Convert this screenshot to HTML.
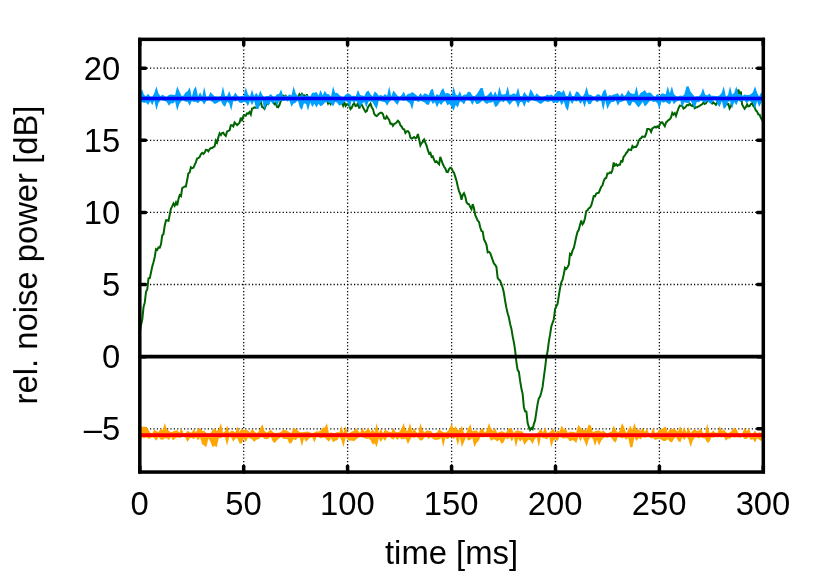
<!DOCTYPE html>
<html><head><meta charset="utf-8"><title>chart</title>
<style>html,body{margin:0;padding:0;background:#fff;}svg{display:block;}</style>
</head><body>
<svg width="822" height="576" viewBox="0 0 822 576">
<rect width="822" height="576" fill="#fff"/>
<g stroke="#000" stroke-width="1.3" stroke-dasharray="1.2 2.2" fill="none">
<path d="M243.7 39.35 V472.05"/>
<path d="M347.6 39.35 V472.05"/>
<path d="M451.6 39.35 V472.05"/>
<path d="M555.5 39.35 V472.05"/>
<path d="M659.4 39.35 V472.05"/>
<path d="M139.8 68.2 H763.3"/>
<path d="M139.8 140.3 H763.3"/>
<path d="M139.8 212.4 H763.3"/>
<path d="M139.8 284.5 H763.3"/>
<path d="M139.8 428.8 H763.3"/>
</g>
<g stroke="#000" stroke-width="3.5" stroke-linecap="round" fill="none">
<path d="M139.8 472.05 v-5.7"/><path d="M139.8 39.35 v5.7"/>
<path d="M243.7 472.05 v-5.7"/><path d="M243.7 39.35 v5.7"/>
<path d="M347.6 472.05 v-5.7"/><path d="M347.6 39.35 v5.7"/>
<path d="M451.6 472.05 v-5.7"/><path d="M451.6 39.35 v5.7"/>
<path d="M555.5 472.05 v-5.7"/><path d="M555.5 39.35 v5.7"/>
<path d="M659.4 472.05 v-5.7"/><path d="M659.4 39.35 v5.7"/>
<path d="M763.3 472.05 v-5.7"/><path d="M763.3 39.35 v5.7"/>
<path d="M139.8 68.2 h5.7"/><path d="M763.3 68.2 h-5.7"/>
<path d="M139.8 140.3 h5.7"/><path d="M763.3 140.3 h-5.7"/>
<path d="M139.8 212.4 h5.7"/><path d="M763.3 212.4 h-5.7"/>
<path d="M139.8 284.5 h5.7"/><path d="M763.3 284.5 h-5.7"/>
<path d="M139.8 356.7 h5.7"/><path d="M763.3 356.7 h-5.7"/>
<path d="M139.8 428.8 h5.7"/><path d="M763.3 428.8 h-5.7"/>
</g>
<path d="M139.8 332.3 L141.0 325.1 L142.3 319.5 L143.5 307.3 L144.8 302.4 L146.0 291.8 L147.3 289.3 L148.5 278.3 L149.8 278.1 L151.0 272.5 L152.3 266.3 L153.5 262.2 L154.8 256.7 L156.0 249.1 L157.3 249.9 L158.5 247.4 L159.8 247.6 L161.0 244.3 L162.2 235.5 L163.5 234.0 L164.7 225.8 L166.0 220.2 L167.2 220.3 L168.5 220.9 L169.7 214.7 L171.0 208.5 L172.2 206.4 L173.5 203.5 L174.7 205.7 L176.0 202.4 L177.2 205.3 L178.5 198.9 L179.7 195.1 L181.0 196.1 L182.2 188.0 L183.4 187.3 L184.7 186.5 L185.9 186.5 L187.2 179.7 L188.4 173.4 L189.7 172.5 L190.9 167.2 L192.2 168.2 L193.4 167.8 L194.7 164.8 L195.9 162.1 L197.2 158.4 L198.4 158.1 L199.7 156.9 L200.9 154.2 L202.2 152.8 L203.4 153.8 L204.6 152.7 L205.9 149.9 L207.1 150.0 L208.4 151.4 L209.6 149.1 L210.9 148.1 L212.1 148.1 L213.4 147.1 L214.6 146.4 L215.9 140.6 L217.1 142.5 L218.4 137.1 L219.6 133.4 L220.9 135.0 L222.1 133.0 L223.3 132.6 L224.6 134.9 L225.8 136.0 L227.1 131.5 L228.3 130.9 L229.6 130.3 L230.8 125.3 L232.1 125.3 L233.3 126.5 L234.6 122.4 L235.8 123.7 L237.1 125.1 L238.3 124.0 L239.6 122.6 L240.8 117.7 L242.1 121.1 L243.3 116.0 L244.5 115.2 L245.8 115.7 L247.0 113.4 L248.3 113.6 L249.5 112.0 L250.8 114.5 L252.0 108.8 L253.3 108.2 L254.5 107.4 L255.8 107.8 L257.0 107.0 L258.3 105.9 L259.5 103.6 L260.8 101.6 L262.0 106.8 L263.3 107.6 L264.5 108.9 L265.7 105.8 L267.0 103.8 L268.2 104.0 L269.5 99.9 L270.7 99.8 L272.0 99.9 L273.2 101.7 L274.5 104.2 L275.7 103.2 L277.0 106.9 L278.2 107.3 L279.5 104.8 L280.7 101.2 L282.0 99.4 L283.2 95.7 L284.5 96.6 L285.7 95.8 L286.9 98.0 L288.2 97.3 L289.4 98.4 L290.7 99.4 L291.9 97.2 L293.2 99.5 L294.4 101.2 L295.7 98.6 L296.9 99.4 L298.2 96.9 L299.4 94.1 L300.7 95.8 L301.9 93.9 L303.2 95.8 L304.4 95.5 L305.7 97.2 L306.9 94.3 L308.1 100.7 L309.4 100.3 L310.6 98.3 L311.9 97.7 L313.1 99.1 L314.4 100.2 L315.6 100.0 L316.9 100.1 L318.1 97.0 L319.4 98.3 L320.6 101.9 L321.9 100.7 L323.1 98.5 L324.4 99.8 L325.6 99.3 L326.9 100.2 L328.1 103.6 L329.3 102.0 L330.6 104.1 L331.8 101.3 L333.1 97.5 L334.3 97.3 L335.6 101.2 L336.8 97.8 L338.1 98.3 L339.3 102.5 L340.6 101.9 L341.8 102.7 L343.1 105.7 L344.3 102.1 L345.6 105.9 L346.8 104.3 L348.0 104.3 L349.3 105.7 L350.5 109.0 L351.8 107.6 L353.0 104.6 L354.3 103.4 L355.5 106.1 L356.8 105.7 L358.0 103.0 L359.3 108.4 L360.5 105.0 L361.8 104.8 L363.0 107.3 L364.3 109.8 L365.5 111.8 L366.8 111.0 L368.0 107.3 L369.2 105.4 L370.5 103.6 L371.7 107.4 L373.0 109.1 L374.2 113.9 L375.5 115.4 L376.7 116.1 L378.0 114.8 L379.2 113.5 L380.5 112.7 L381.7 112.8 L383.0 114.2 L384.2 118.4 L385.5 118.8 L386.7 116.3 L388.0 118.4 L389.2 119.9 L390.4 123.8 L391.7 123.6 L392.9 125.8 L394.2 123.9 L395.4 123.4 L396.7 122.2 L397.9 120.7 L399.2 122.1 L400.4 125.3 L401.7 126.7 L402.9 128.9 L404.2 129.3 L405.4 132.9 L406.7 131.3 L407.9 131.1 L409.2 132.6 L410.4 137.7 L411.6 138.5 L412.9 137.8 L414.1 137.1 L415.4 138.3 L416.6 137.8 L417.9 134.1 L419.1 139.0 L420.4 145.3 L421.6 143.1 L422.9 141.8 L424.1 139.6 L425.4 142.8 L426.6 145.7 L427.9 150.2 L429.1 153.6 L430.4 152.8 L431.6 157.0 L432.8 156.4 L434.1 159.8 L435.3 162.1 L436.6 161.3 L437.8 162.9 L439.1 164.3 L440.3 156.8 L441.6 160.7 L442.8 164.0 L444.1 166.7 L445.3 168.5 L446.6 171.8 L447.8 172.1 L449.1 169.0 L450.3 167.7 L451.6 168.4 L452.8 171.2 L454.0 172.7 L455.3 176.9 L456.5 180.7 L457.8 186.4 L459.0 191.1 L460.3 194.1 L461.5 199.8 L462.8 194.7 L464.0 193.2 L465.3 196.6 L466.5 202.2 L467.8 203.8 L469.0 204.2 L470.3 207.1 L471.5 209.3 L472.7 204.1 L474.0 208.3 L475.2 215.0 L476.5 217.8 L477.7 220.6 L479.0 221.9 L480.2 227.2 L481.5 231.0 L482.7 231.6 L484.0 239.5 L485.2 241.8 L486.5 244.9 L487.7 252.4 L489.0 251.9 L490.2 253.1 L491.5 256.6 L492.7 260.2 L493.9 263.4 L495.2 264.9 L496.4 266.9 L497.7 278.0 L498.9 279.5 L500.2 280.9 L501.4 284.1 L502.7 287.7 L503.9 293.0 L505.2 301.3 L506.4 307.9 L507.7 313.4 L508.9 317.6 L510.2 324.3 L511.4 328.7 L512.7 336.6 L513.9 342.4 L515.1 350.2 L516.4 362.1 L517.6 369.9 L518.9 371.9 L520.1 380.7 L521.4 388.6 L522.6 393.6 L523.9 407.2 L525.1 411.3 L526.4 411.6 L527.6 422.9 L528.9 427.2 L530.1 429.9 L531.4 428.0 L532.6 429.1 L533.9 423.8 L535.1 420.4 L536.3 412.3 L537.6 403.9 L538.8 398.3 L540.1 396.5 L541.3 392.3 L542.6 386.9 L543.8 377.4 L545.1 367.8 L546.3 357.4 L547.6 351.3 L548.8 341.8 L550.1 334.4 L551.3 326.5 L552.6 322.7 L553.8 319.3 L555.1 309.2 L556.3 306.3 L557.5 304.2 L558.8 295.9 L560.0 288.4 L561.3 282.3 L562.5 279.9 L563.8 274.1 L565.0 267.7 L566.3 268.9 L567.5 267.3 L568.8 264.8 L570.0 253.8 L571.3 254.8 L572.5 250.7 L573.8 247.9 L575.0 242.7 L576.2 237.1 L577.5 232.0 L578.7 230.1 L580.0 225.0 L581.2 220.5 L582.5 224.3 L583.7 222.5 L585.0 218.2 L586.2 211.2 L587.5 210.2 L588.7 208.5 L590.0 207.6 L591.2 205.6 L592.5 201.0 L593.7 196.1 L595.0 196.3 L596.2 193.6 L597.4 192.9 L598.7 192.8 L599.9 190.0 L601.2 186.8 L602.4 185.6 L603.7 181.0 L604.9 178.6 L606.2 178.0 L607.4 173.6 L608.7 173.6 L609.9 172.4 L611.2 172.9 L612.4 170.3 L613.7 162.5 L614.9 165.5 L616.2 164.2 L617.4 165.8 L618.6 164.8 L619.9 164.8 L621.1 161.1 L622.4 161.6 L623.6 156.7 L624.9 155.4 L626.1 153.2 L627.4 151.8 L628.6 149.4 L629.9 149.8 L631.1 150.0 L632.4 146.1 L633.6 147.5 L634.9 146.7 L636.1 146.9 L637.4 144.9 L638.6 141.1 L639.8 138.9 L641.1 138.2 L642.3 136.6 L643.6 136.8 L644.8 137.0 L646.1 133.9 L647.3 128.9 L648.6 128.9 L649.8 129.3 L651.1 131.9 L652.3 128.4 L653.6 127.7 L654.8 126.8 L656.1 127.5 L657.3 126.4 L658.6 127.4 L659.8 124.5 L661.0 122.4 L662.3 122.3 L663.5 124.3 L664.8 126.3 L666.0 122.6 L667.3 121.2 L668.5 120.1 L669.8 119.3 L671.0 117.6 L672.3 112.8 L673.5 114.6 L674.8 113.1 L676.0 115.9 L677.3 111.8 L678.5 108.3 L679.8 105.5 L681.0 105.7 L682.2 105.6 L683.5 108.6 L684.7 108.0 L686.0 106.3 L687.2 104.9 L688.5 105.4 L689.7 103.7 L691.0 105.4 L692.2 106.0 L693.5 103.9 L694.7 108.1 L696.0 107.3 L697.2 107.2 L698.5 106.3 L699.7 105.8 L701.0 104.9 L702.2 104.3 L703.4 102.4 L704.7 104.0 L705.9 103.3 L707.2 101.3 L708.4 100.3 L709.7 100.1 L710.9 101.9 L712.2 103.5 L713.4 102.4 L714.7 103.6 L715.9 104.8 L717.2 102.1 L718.4 98.9 L719.7 103.4 L720.9 99.9 L722.1 98.5 L723.4 96.8 L724.6 101.1 L725.9 103.3 L727.1 104.4 L728.4 104.0 L729.6 108.5 L730.9 106.3 L732.1 102.4 L733.4 100.6 L734.6 98.9 L735.9 96.7 L737.1 95.2 L738.4 89.6 L739.6 93.8 L740.9 91.7 L742.1 104.5 L743.3 106.5 L744.6 108.7 L745.8 107.3 L747.1 104.4 L748.3 106.3 L749.6 106.1 L750.8 104.1 L752.1 103.1 L753.3 106.0 L754.6 107.3 L755.8 110.3 L757.1 111.5 L758.3 114.4 L759.6 114.7 L760.8 117.8 L762.1 120.0 L763.3 117.0" fill="none" stroke="#006400" stroke-width="2.0" stroke-linejoin="miter" stroke-miterlimit="3"/>
<path d="M139.8 95.0 L141.9 89.1 L144.0 94.7 L146.0 96.2 L148.1 93.8 L150.2 96.5 L152.3 96.5 L154.3 93.3 L156.4 86.3 L158.5 93.6 L160.6 96.3 L162.7 94.5 L164.7 96.2 L166.8 96.7 L168.9 95.1 L171.0 94.6 L173.1 94.7 L175.1 95.0 L177.2 86.3 L179.3 91.3 L181.4 95.7 L183.4 95.8 L185.5 92.4 L187.6 91.2 L189.7 87.3 L191.8 96.8 L193.8 89.6 L195.9 86.3 L198.0 96.6 L200.1 92.3 L202.2 96.5 L204.2 86.8 L206.3 96.4 L208.4 96.5 L210.5 92.0 L212.5 94.3 L214.6 96.2 L216.7 96.4 L218.8 96.4 L220.9 96.1 L222.9 86.3 L225.0 95.7 L227.1 96.1 L229.2 91.0 L231.2 96.5 L233.3 96.1 L235.4 92.4 L237.5 95.7 L239.6 96.5 L241.6 96.0 L243.7 95.4 L245.8 87.2 L247.9 94.2 L250.0 96.2 L252.0 89.6 L254.1 95.9 L256.2 92.8 L258.3 96.1 L260.3 90.4 L262.4 95.2 L264.5 96.7 L266.6 96.0 L268.7 95.9 L270.7 94.1 L272.8 96.2 L274.9 96.6 L277.0 94.3 L279.0 93.9 L281.1 89.3 L283.2 96.7 L285.3 95.0 L287.4 96.2 L289.4 94.3 L291.5 95.5 L293.6 86.3 L295.7 93.3 L297.8 96.3 L299.8 96.7 L301.9 93.2 L304.0 96.7 L306.1 94.8 L308.1 95.6 L310.2 96.6 L312.3 92.8 L314.4 92.8 L316.5 92.1 L318.5 95.5 L320.6 89.9 L322.7 95.2 L324.8 90.8 L326.9 93.9 L328.9 94.2 L331.0 96.5 L333.1 86.3 L335.2 92.9 L337.2 92.8 L339.3 95.1 L341.4 96.5 L343.5 96.7 L345.6 94.8 L347.6 93.2 L349.7 93.9 L351.8 95.9 L353.9 95.7 L355.9 96.1 L358.0 89.7 L360.1 95.1 L362.2 95.6 L364.3 96.1 L366.3 91.9 L368.4 90.4 L370.5 94.2 L372.6 96.4 L374.7 91.4 L376.7 93.1 L378.8 95.8 L380.9 95.0 L383.0 96.1 L385.0 93.9 L387.1 95.7 L389.2 86.3 L391.3 96.6 L393.4 90.6 L395.4 93.1 L397.5 95.7 L399.6 96.7 L401.7 95.0 L403.7 91.5 L405.8 96.3 L407.9 93.8 L410.0 93.8 L412.1 91.9 L414.1 93.3 L416.2 94.9 L418.3 96.8 L420.4 93.0 L422.5 95.8 L424.5 93.2 L426.6 93.9 L428.7 95.3 L430.8 89.7 L432.8 88.7 L434.9 96.4 L437.0 93.9 L439.1 95.4 L441.2 90.5 L443.2 88.1 L445.3 93.6 L447.4 93.0 L449.5 93.7 L451.6 96.1 L453.6 86.3 L455.7 94.5 L457.8 95.6 L459.9 91.0 L461.9 96.5 L464.0 94.4 L466.1 94.8 L468.2 91.8 L470.3 92.0 L472.3 95.6 L474.4 96.3 L476.5 94.6 L478.6 91.3 L480.6 88.1 L482.7 87.9 L484.8 96.0 L486.9 95.8 L489.0 93.7 L491.0 91.2 L493.1 95.7 L495.2 91.2 L497.3 96.1 L499.4 86.4 L501.4 94.2 L503.5 94.5 L505.6 94.0 L507.7 86.3 L509.7 95.3 L511.8 94.3 L513.9 93.3 L516.0 94.5 L518.1 87.4 L520.1 95.9 L522.2 96.4 L524.3 91.7 L526.4 94.9 L528.4 96.2 L530.5 89.0 L532.6 92.3 L534.7 96.2 L536.8 93.3 L538.8 95.5 L540.9 96.5 L543.0 96.4 L545.1 95.9 L547.2 94.5 L549.2 95.4 L551.3 94.5 L553.4 96.1 L555.5 93.7 L557.5 91.1 L559.6 91.0 L561.7 92.7 L563.8 89.8 L565.9 95.7 L567.9 96.1 L570.0 90.2 L572.1 96.0 L574.2 95.9 L576.2 91.4 L578.3 92.1 L580.4 95.3 L582.5 96.7 L584.6 93.4 L586.6 86.4 L588.7 94.7 L590.8 94.7 L592.9 96.2 L595.0 96.5 L597.0 94.4 L599.1 94.3 L601.2 96.2 L603.3 91.3 L605.3 89.0 L607.4 96.6 L609.5 94.9 L611.6 95.6 L613.7 94.6 L615.7 94.0 L617.8 93.2 L619.9 96.2 L622.0 92.8 L624.1 96.1 L626.1 94.6 L628.2 90.1 L630.3 93.1 L632.4 93.8 L634.4 94.1 L636.5 86.3 L638.6 95.9 L640.7 92.7 L642.8 91.7 L644.8 90.0 L646.9 93.2 L649.0 92.5 L651.1 93.0 L653.1 95.5 L655.2 96.8 L657.3 93.7 L659.4 96.0 L661.5 93.5 L663.5 93.6 L665.6 94.5 L667.7 86.3 L669.8 93.2 L671.9 86.3 L673.9 93.9 L676.0 95.9 L678.1 96.6 L680.2 95.4 L682.2 95.9 L684.3 94.4 L686.4 86.6 L688.5 86.3 L690.6 91.8 L692.6 94.1 L694.7 96.7 L696.8 96.3 L698.9 96.2 L701.0 94.0 L703.0 88.1 L705.1 94.6 L707.2 95.4 L709.3 93.6 L711.3 95.8 L713.4 95.7 L715.5 96.0 L717.6 96.3 L719.7 95.3 L721.7 92.7 L723.8 86.3 L725.9 96.6 L728.0 95.1 L730.0 86.3 L732.1 94.6 L734.2 93.0 L736.3 86.3 L738.4 94.0 L740.4 93.9 L742.5 96.1 L744.6 94.5 L746.7 95.0 L748.8 95.0 L750.8 94.2 L752.9 92.3 L755.0 86.3 L757.1 92.8 L759.1 96.4 L761.2 92.2 L763.3 95.5 L763.3 101.2 L761.2 103.1 L759.1 106.9 L757.1 101.0 L755.0 109.3 L752.9 102.5 L750.8 101.8 L748.8 101.1 L746.7 103.5 L744.6 100.6 L742.5 100.4 L740.4 102.0 L738.4 100.6 L736.3 105.3 L734.2 102.1 L732.1 108.5 L730.0 101.0 L728.0 102.1 L725.9 107.3 L723.8 108.9 L721.7 100.4 L719.7 107.0 L717.6 104.4 L715.5 100.3 L713.4 100.2 L711.3 104.0 L709.3 102.7 L707.2 101.2 L705.1 102.9 L703.0 101.8 L701.0 100.4 L698.9 102.3 L696.8 102.1 L694.7 108.2 L692.6 104.5 L690.6 100.4 L688.5 103.2 L686.4 102.7 L684.3 102.3 L682.2 107.3 L680.2 100.5 L678.1 100.9 L676.0 101.7 L673.9 104.2 L671.9 100.3 L669.8 104.5 L667.7 103.3 L665.6 101.7 L663.5 102.7 L661.5 101.4 L659.4 108.9 L657.3 103.1 L655.2 101.5 L653.1 102.1 L651.1 100.4 L649.0 101.8 L646.9 104.6 L644.8 106.6 L642.8 101.8 L640.7 104.7 L638.6 107.5 L636.5 105.1 L634.4 102.3 L632.4 101.8 L630.3 106.1 L628.2 105.1 L626.1 100.2 L624.1 100.7 L622.0 101.8 L619.9 102.0 L617.8 105.8 L615.7 100.2 L613.7 101.9 L611.6 102.1 L609.5 104.5 L607.4 109.3 L605.3 100.5 L603.3 110.7 L601.2 100.9 L599.1 100.7 L597.0 102.4 L595.0 100.3 L592.9 100.4 L590.8 103.7 L588.7 104.5 L586.6 100.6 L584.6 107.5 L582.5 100.9 L580.4 103.7 L578.3 100.6 L576.2 101.8 L574.2 100.5 L572.1 104.1 L570.0 100.6 L567.9 110.7 L565.9 107.9 L563.8 101.3 L561.7 105.2 L559.6 101.0 L557.5 103.0 L555.5 102.5 L553.4 103.2 L551.3 100.7 L549.2 101.8 L547.2 101.9 L545.1 100.9 L543.0 102.3 L540.9 104.1 L538.8 103.1 L536.8 101.4 L534.7 101.0 L532.6 100.3 L530.5 100.6 L528.4 103.1 L526.4 101.3 L524.3 107.1 L522.2 101.9 L520.1 102.1 L518.1 107.9 L516.0 101.8 L513.9 100.4 L511.8 102.2 L509.7 105.0 L507.7 102.4 L505.6 100.3 L503.5 102.3 L501.4 100.9 L499.4 102.4 L497.3 105.9 L495.2 107.1 L493.1 101.6 L491.0 102.7 L489.0 102.4 L486.9 104.1 L484.8 102.4 L482.7 100.5 L480.6 102.2 L478.6 103.7 L476.5 104.1 L474.4 100.7 L472.3 104.9 L470.3 100.8 L468.2 100.4 L466.1 100.3 L464.0 104.6 L461.9 101.9 L459.9 101.5 L457.8 107.4 L455.7 104.9 L453.6 110.7 L451.6 107.1 L449.5 104.0 L447.4 105.3 L445.3 100.9 L443.2 102.1 L441.2 105.0 L439.1 102.7 L437.0 107.4 L434.9 102.0 L432.8 104.0 L430.8 100.5 L428.7 104.9 L426.6 104.4 L424.5 102.4 L422.5 101.5 L420.4 100.8 L418.3 102.1 L416.2 100.8 L414.1 100.9 L412.1 109.7 L410.0 103.4 L407.9 102.0 L405.8 100.3 L403.7 101.0 L401.7 100.3 L399.6 100.6 L397.5 104.9 L395.4 102.7 L393.4 100.3 L391.3 100.3 L389.2 102.0 L387.1 105.7 L385.0 102.2 L383.0 101.8 L380.9 101.2 L378.8 100.8 L376.7 109.2 L374.7 105.9 L372.6 102.3 L370.5 101.3 L368.4 101.7 L366.3 107.6 L364.3 101.9 L362.2 103.5 L360.1 106.9 L358.0 103.4 L355.9 100.8 L353.9 103.6 L351.8 100.2 L349.7 107.8 L347.6 102.3 L345.6 101.0 L343.5 103.0 L341.4 104.4 L339.3 105.7 L337.2 102.8 L335.2 101.7 L333.1 106.6 L331.0 103.3 L328.9 103.0 L326.9 101.6 L324.8 102.8 L322.7 104.9 L320.6 106.3 L318.5 103.7 L316.5 107.6 L314.4 103.8 L312.3 107.1 L310.2 102.6 L308.1 110.7 L306.1 104.1 L304.0 103.2 L301.9 110.1 L299.8 107.4 L297.8 100.3 L295.7 102.8 L293.6 103.4 L291.5 106.8 L289.4 100.6 L287.4 101.6 L285.3 100.4 L283.2 101.1 L281.1 100.9 L279.0 101.2 L277.0 105.9 L274.9 101.0 L272.8 104.0 L270.7 101.2 L268.7 105.4 L266.6 103.9 L264.5 110.1 L262.4 100.5 L260.3 103.0 L258.3 109.2 L256.2 108.7 L254.1 100.8 L252.0 105.3 L250.0 100.7 L247.9 106.2 L245.8 102.2 L243.7 102.0 L241.6 103.0 L239.6 102.8 L237.5 100.4 L235.4 101.4 L233.3 101.1 L231.2 110.7 L229.2 103.3 L227.1 101.7 L225.0 106.7 L222.9 105.1 L220.9 101.1 L218.8 101.8 L216.7 103.3 L214.6 104.1 L212.5 102.0 L210.5 100.8 L208.4 100.4 L206.3 101.0 L204.2 104.5 L202.2 101.4 L200.1 101.1 L198.0 103.2 L195.9 101.7 L193.8 102.1 L191.8 100.9 L189.7 105.8 L187.6 101.7 L185.5 101.7 L183.4 100.4 L181.4 101.0 L179.3 103.9 L177.2 110.7 L175.1 101.2 L173.1 103.5 L171.0 103.3 L168.9 105.7 L166.8 102.1 L164.7 101.0 L162.7 100.4 L160.6 100.2 L158.5 103.1 L156.4 110.2 L154.3 100.3 L152.3 105.2 L150.2 101.3 L148.1 104.9 L146.0 102.4 L144.0 102.9 L141.9 102.1 L139.8 102.7 Z" fill="#00a0ff"/>
<path d="M139.8 426.8 L141.9 426.8 L144.0 426.8 L146.0 426.8 L148.1 429.1 L150.2 432.7 L152.3 433.3 L154.3 429.7 L156.4 431.2 L158.5 432.1 L160.6 428.8 L162.7 430.2 L164.7 422.9 L166.8 429.1 L168.9 430.9 L171.0 432.3 L173.1 431.5 L175.1 430.7 L177.2 430.3 L179.3 432.8 L181.4 428.3 L183.4 433.0 L185.5 433.3 L187.6 430.8 L189.7 432.2 L191.8 432.4 L193.8 428.9 L195.9 432.5 L198.0 428.8 L200.1 428.1 L202.2 431.0 L204.2 430.7 L206.3 432.9 L208.4 433.2 L210.5 433.3 L212.5 429.9 L214.6 428.5 L216.7 431.1 L218.8 429.3 L220.9 422.9 L222.9 432.8 L225.0 431.5 L227.1 425.3 L229.2 432.7 L231.2 431.1 L233.3 431.0 L235.4 432.5 L237.5 426.5 L239.6 432.1 L241.6 428.4 L243.7 429.9 L245.8 429.9 L247.9 430.3 L250.0 432.4 L252.0 429.0 L254.1 431.0 L256.2 433.1 L258.3 432.2 L260.3 428.0 L262.4 424.3 L264.5 430.9 L266.6 432.6 L268.7 431.5 L270.7 429.6 L272.8 432.0 L274.9 432.9 L277.0 432.7 L279.0 432.8 L281.1 431.8 L283.2 429.8 L285.3 429.9 L287.4 431.0 L289.4 432.3 L291.5 433.1 L293.6 427.4 L295.7 428.9 L297.8 430.6 L299.8 432.2 L301.9 432.3 L304.0 432.1 L306.1 431.8 L308.1 431.5 L310.2 432.5 L312.3 433.1 L314.4 432.5 L316.5 431.3 L318.5 431.5 L320.6 430.9 L322.7 427.5 L324.8 427.7 L326.9 422.9 L328.9 433.3 L331.0 432.4 L333.1 432.9 L335.2 433.1 L337.2 431.9 L339.3 432.4 L341.4 426.0 L343.5 432.8 L345.6 426.1 L347.6 433.3 L349.7 433.0 L351.8 431.5 L353.9 430.9 L355.9 428.2 L358.0 430.7 L360.1 433.0 L362.2 427.6 L364.3 431.7 L366.3 430.5 L368.4 427.5 L370.5 432.1 L372.6 429.3 L374.7 432.3 L376.7 422.9 L378.8 433.0 L380.9 428.9 L383.0 433.3 L385.0 429.5 L387.1 431.1 L389.2 431.8 L391.3 432.3 L393.4 428.2 L395.4 431.8 L397.5 432.3 L399.6 431.6 L401.7 428.2 L403.7 423.1 L405.8 430.5 L407.9 430.6 L410.0 422.9 L412.1 431.7 L414.1 427.9 L416.2 432.0 L418.3 433.3 L420.4 422.9 L422.5 429.7 L424.5 432.4 L426.6 430.6 L428.7 430.7 L430.8 431.1 L432.8 433.2 L434.9 432.9 L437.0 432.3 L439.1 429.2 L441.2 431.1 L443.2 432.1 L445.3 432.5 L447.4 431.4 L449.5 428.7 L451.6 423.5 L453.6 428.7 L455.7 426.5 L457.8 429.9 L459.9 430.1 L461.9 425.8 L464.0 433.0 L466.1 433.2 L468.2 428.6 L470.3 423.9 L472.3 431.2 L474.4 430.8 L476.5 430.3 L478.6 432.7 L480.6 429.5 L482.7 428.3 L484.8 432.7 L486.9 430.1 L489.0 422.9 L491.0 428.4 L493.1 430.9 L495.2 428.6 L497.3 432.9 L499.4 432.1 L501.4 431.2 L503.5 431.8 L505.6 433.1 L507.7 430.1 L509.7 428.0 L511.8 428.5 L513.9 432.9 L516.0 430.8 L518.1 430.5 L520.1 431.3 L522.2 431.2 L524.3 433.9 L526.4 433.9 L528.4 433.9 L530.5 433.9 L532.6 433.9 L534.7 433.9 L536.8 433.9 L538.8 431.3 L540.9 429.0 L543.0 432.5 L545.1 426.9 L547.2 432.9 L549.2 432.5 L551.3 430.7 L553.4 428.9 L555.5 432.9 L557.5 430.4 L559.6 431.6 L561.7 425.5 L563.8 429.4 L565.9 428.9 L567.9 433.1 L570.0 431.4 L572.1 431.8 L574.2 432.0 L576.2 432.8 L578.3 424.7 L580.4 427.5 L582.5 429.9 L584.6 429.4 L586.6 430.4 L588.7 424.6 L590.8 425.6 L592.9 432.3 L595.0 431.2 L597.0 430.4 L599.1 430.5 L601.2 431.9 L603.3 430.6 L605.3 432.2 L607.4 433.4 L609.5 432.3 L611.6 431.4 L613.7 425.6 L615.7 430.1 L617.8 432.4 L619.9 430.6 L622.0 422.9 L624.1 426.9 L626.1 433.1 L628.2 429.9 L630.3 425.6 L632.4 429.9 L634.4 422.9 L636.5 429.5 L638.6 429.5 L640.7 431.0 L642.8 427.7 L644.8 432.0 L646.9 428.7 L649.0 433.2 L651.1 433.0 L653.1 427.4 L655.2 433.1 L657.3 432.2 L659.4 429.3 L661.5 429.4 L663.5 427.7 L665.6 426.5 L667.7 432.4 L669.8 429.0 L671.9 429.5 L673.9 428.2 L676.0 430.3 L678.1 431.5 L680.2 426.1 L682.2 431.7 L684.3 426.9 L686.4 432.8 L688.5 427.1 L690.6 433.1 L692.6 430.7 L694.7 428.5 L696.8 431.2 L698.9 430.6 L701.0 428.7 L703.0 432.7 L705.1 433.4 L707.2 423.5 L709.3 432.8 L711.3 432.6 L713.4 430.4 L715.5 432.7 L717.6 432.8 L719.7 426.1 L721.7 431.1 L723.8 429.6 L725.9 432.0 L728.0 433.3 L730.0 432.2 L732.1 430.4 L734.2 427.4 L736.3 429.0 L738.4 433.1 L740.4 433.1 L742.5 432.9 L744.6 427.7 L746.7 431.3 L748.8 428.4 L750.8 433.3 L752.9 433.4 L755.0 430.5 L757.1 433.4 L759.1 432.3 L761.2 433.3 L763.3 424.0 L763.3 439.2 L761.2 441.0 L759.1 439.4 L757.1 438.3 L755.0 442.5 L752.9 438.9 L750.8 440.1 L748.8 436.9 L746.7 438.9 L744.6 439.1 L742.5 437.1 L740.4 437.7 L738.4 437.4 L736.3 437.2 L734.2 437.7 L732.1 437.0 L730.0 438.8 L728.0 438.4 L725.9 440.8 L723.8 436.8 L721.7 437.5 L719.7 436.9 L717.6 437.4 L715.5 437.1 L713.4 437.8 L711.3 437.6 L709.3 442.1 L707.2 442.8 L705.1 438.4 L703.0 438.3 L701.0 437.2 L698.9 438.5 L696.8 437.4 L694.7 437.7 L692.6 441.1 L690.6 447.3 L688.5 439.4 L686.4 436.9 L684.3 440.0 L682.2 437.6 L680.2 442.5 L678.1 440.7 L676.0 436.9 L673.9 439.1 L671.9 442.4 L669.8 441.4 L667.7 438.9 L665.6 440.9 L663.5 441.1 L661.5 439.7 L659.4 438.6 L657.3 439.3 L655.2 440.1 L653.1 438.1 L651.1 438.5 L649.0 437.2 L646.9 437.2 L644.8 437.9 L642.8 437.0 L640.7 439.5 L638.6 438.0 L636.5 440.9 L634.4 437.3 L632.4 447.3 L630.3 447.3 L628.2 437.7 L626.1 439.8 L624.1 437.6 L622.0 438.5 L619.9 437.6 L617.8 437.2 L615.7 442.4 L613.7 441.3 L611.6 438.1 L609.5 437.1 L607.4 438.0 L605.3 437.3 L603.3 438.3 L601.2 440.8 L599.1 445.5 L597.0 439.7 L595.0 446.0 L592.9 439.1 L590.8 437.3 L588.7 439.8 L586.6 446.7 L584.6 441.2 L582.5 437.1 L580.4 441.3 L578.3 436.9 L576.2 443.2 L574.2 440.8 L572.1 440.1 L570.0 441.5 L567.9 438.5 L565.9 438.0 L563.8 438.7 L561.7 437.7 L559.6 437.0 L557.5 441.1 L555.5 439.3 L553.4 440.8 L551.3 447.3 L549.2 436.9 L547.2 439.2 L545.1 438.6 L543.0 438.2 L540.9 437.1 L538.8 447.3 L536.8 437.5 L534.7 438.9 L532.6 444.2 L530.5 440.6 L528.4 439.5 L526.4 442.3 L524.3 444.9 L522.2 439.1 L520.1 441.8 L518.1 438.5 L516.0 447.3 L513.9 437.3 L511.8 441.6 L509.7 437.5 L507.7 439.6 L505.6 438.0 L503.5 442.6 L501.4 443.8 L499.4 439.4 L497.3 441.6 L495.2 439.8 L493.1 439.3 L491.0 441.1 L489.0 436.8 L486.9 437.3 L484.8 437.0 L482.7 437.4 L480.6 437.0 L478.6 440.8 L476.5 443.1 L474.4 447.3 L472.3 437.8 L470.3 439.8 L468.2 440.6 L466.1 437.1 L464.0 442.1 L461.9 447.3 L459.9 437.2 L457.8 445.6 L455.7 437.3 L453.6 439.3 L451.6 436.9 L449.5 437.8 L447.4 439.2 L445.3 437.8 L443.2 447.3 L441.2 437.5 L439.1 439.6 L437.0 439.7 L434.9 439.9 L432.8 438.7 L430.8 437.2 L428.7 439.0 L426.6 437.0 L424.5 437.4 L422.5 440.1 L420.4 440.8 L418.3 438.3 L416.2 437.0 L414.1 438.3 L412.1 437.0 L410.0 440.0 L407.9 444.3 L405.8 438.5 L403.7 439.1 L401.7 439.4 L399.6 437.4 L397.5 440.1 L395.4 437.6 L393.4 439.5 L391.3 438.5 L389.2 437.0 L387.1 437.5 L385.0 441.1 L383.0 438.3 L380.9 442.1 L378.8 438.2 L376.7 447.3 L374.7 443.3 L372.6 444.6 L370.5 440.0 L368.4 438.5 L366.3 439.1 L364.3 437.9 L362.2 437.5 L360.1 437.1 L358.0 438.0 L355.9 439.6 L353.9 441.2 L351.8 440.5 L349.7 440.7 L347.6 439.6 L345.6 437.4 L343.5 447.3 L341.4 440.0 L339.3 437.0 L337.2 440.2 L335.2 440.8 L333.1 442.3 L331.0 438.1 L328.9 441.7 L326.9 439.8 L324.8 437.7 L322.7 437.7 L320.6 438.6 L318.5 437.2 L316.5 437.2 L314.4 442.5 L312.3 437.5 L310.2 437.8 L308.1 439.2 L306.1 441.9 L304.0 438.3 L301.9 446.4 L299.8 438.1 L297.8 437.8 L295.7 440.2 L293.6 438.9 L291.5 443.1 L289.4 443.7 L287.4 439.0 L285.3 439.1 L283.2 438.8 L281.1 437.1 L279.0 438.6 L277.0 440.2 L274.9 442.9 L272.8 441.4 L270.7 436.8 L268.7 438.6 L266.6 439.3 L264.5 439.1 L262.4 437.0 L260.3 437.7 L258.3 439.3 L256.2 439.8 L254.1 442.1 L252.0 439.2 L250.0 438.4 L247.9 437.6 L245.8 442.1 L243.7 438.4 L241.6 443.6 L239.6 443.5 L237.5 438.6 L235.4 438.4 L233.3 441.8 L231.2 437.4 L229.2 437.1 L227.1 445.8 L225.0 437.5 L222.9 437.0 L220.9 438.2 L218.8 438.1 L216.7 447.3 L214.6 445.7 L212.5 447.3 L210.5 441.8 L208.4 438.4 L206.3 447.3 L204.2 445.5 L202.2 444.3 L200.1 437.6 L198.0 440.5 L195.9 437.1 L193.8 439.2 L191.8 437.9 L189.7 438.2 L187.6 442.0 L185.5 437.8 L183.4 437.1 L181.4 437.5 L179.3 438.0 L177.2 437.4 L175.1 438.6 L173.1 440.6 L171.0 437.1 L168.9 440.0 L166.8 438.2 L164.7 438.2 L162.7 439.7 L160.6 439.5 L158.5 437.0 L156.4 440.8 L154.3 438.4 L152.3 437.1 L150.2 438.6 L148.1 438.6 L146.0 437.2 L144.0 438.5 L141.9 437.1 L139.8 445.7 Z" fill="#ffa500"/>
<path d="M139.8 435.1 H763.3" stroke="#ff0000" stroke-width="3.7"/>
<path d="M139.8 98.5 H763.3" stroke="#0000ff" stroke-width="3.7"/>
<path d="M139.8 356.7 H763.3" stroke="#000" stroke-width="3.7"/>
<rect x="139.8" y="39.35" width="623.5" height="432.7" fill="none" stroke="#000" stroke-width="3.5"/>
<g font-family="Liberation Sans, sans-serif" font-size="32.8" fill="#000" opacity="0.999">
<text x="120.3" y="79.5" text-anchor="end">20</text>
<text x="120.3" y="151.6" text-anchor="end">15</text>
<text x="120.3" y="223.7" text-anchor="end">10</text>
<text x="120.3" y="295.8" text-anchor="end">5</text>
<text x="120.3" y="368.0" text-anchor="end">0</text>
<text x="120.3" y="440.1" text-anchor="end">–5</text>
<text x="139.5" y="515.2" text-anchor="middle">0</text>
<text x="243.4" y="515.2" text-anchor="middle">50</text>
<text x="347.3" y="515.2" text-anchor="middle">100</text>
<text x="451.2" y="515.2" text-anchor="middle">150</text>
<text x="555.2" y="515.2" text-anchor="middle">200</text>
<text x="659.1" y="515.2" text-anchor="middle">250</text>
<text x="763.0" y="515.2" text-anchor="middle">300</text>
<text x="451.5" y="563.8" text-anchor="middle">time [ms]</text>
<text transform="translate(37.1 255.0) rotate(-90)" text-anchor="middle">rel. noise power [dB]</text>
</g>
</svg>
</body></html>
